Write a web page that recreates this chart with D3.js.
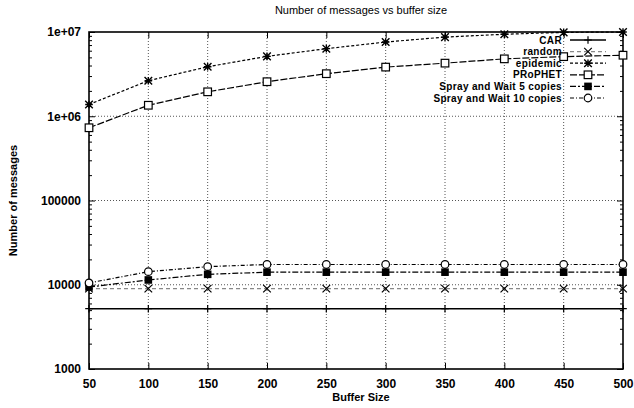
<!DOCTYPE html>
<html>
<head>
<meta charset="utf-8">
<script src="https://cdn.jsdelivr.net/npm/d3@7"></script>
<style>
  body { margin: 0; background: #fff; }
  text { font-family: "Liberation Sans", Arial, sans-serif; fill: #000; }
</style>
</head>
<body>
<div id="chart"></div>
<script>
(function() {
  var margin = { top: 32, left: 89, right: 11, bottom: 39 },
    width = 634 - margin.left - margin.right,
    height = 408 - margin.top - margin.bottom;

  // buffer sizes on the x-axis
  var buffer_sizes = [50, 100, 150, 200, 250, 300, 350, 400, 450, 500];

  // y tick labels (gnuplot style)
  var y_ticks = [1000, 10000, 100000, 1000000, 10000000];
  var y_tick_labels = ["1000", "10000", "100000", "1e+06", "1e+07"];

  var series_names = ["CAR", "random", "epidemic", "PRoPHET", "Spray and Wait 5 copies", "Spray and Wait 10 copies"];

  // values
  var car_values = [5200, 5200, 5200, 5200, 5200, 5200, 5200, 5200, 5200, 5200];
  var random_values = [9000, 9000, 9000, 9000, 9000, 9000, 9000, 9000, 9000, 9000];
  var epidemic_values = [1380000, 2640000, 3870000, 5140000, 6340000, 7600000, 8700000, 9400000, 9900000, 10000000];
  var prophet_values = [730000, 1350000, 1950000, 2570000, 3200000, 3830000, 4270000, 4800000, 5100000, 5300000];
  var spray5_values = [9400, 11400, 13300, 14100, 14100, 14100, 14100, 14100, 14100, 14100];
  var spray10_values = [10500, 14300, 16400, 17400, 17400, 17400, 17400, 17400, 17400, 17400];

  var all_values = [car_values, random_values, epidemic_values, prophet_values, spray5_values, spray10_values];

  // line style and marker per series
  var dash_styles = [null, "4,3", "3,2", "7,2", "6,2,2,2", "4,2,1,2"];
  var line_colours = ["#000", "#888", "#000", "#000", "#000", "#000"];
  var marker_types = ["plus", "cross", "star", "square", "filled", "circle"];

  var svg = d3.select("#chart")
    .append("svg")
    .attr("width", width + margin.left + margin.right)
    .attr("height", height + margin.top + margin.bottom)
    .append("g")
    .attr("transform", "translate(" + margin.left + "," + margin.top + ")");

  var xScale = d3.scaleLinear().domain([50, 500]).range([0, width]);
  var yScale = d3.scaleLog().domain([1000, 10000000]).range([height, 0]);

  // grid
  var grid = svg.append("g").attr("class", "grid");
  grid.selectAll("line.gx")
    .data(buffer_sizes.slice(1, -1))
    .enter().append("line")
    .attr("class", "gx")
    .attr("x1", function(d) { return xScale(d) })
    .attr("x2", function(d) { return xScale(d) })
    .attr("y1", 0).attr("y2", height);

  grid.selectAll("line.gy")
    .data(y_ticks.slice(1, -1))
    .enter().append("line")
    .attr("class", "gy")
    .attr("y1", function(d) { return yScale(d) })
    .attr("y2", function(d) { return yScale(d) })
    .attr("x1", 0).attr("x2", width);

  grid.selectAll("line")
    .attr("stroke", "#555").attr("stroke-width", 1)
    .attr("stroke-dasharray", "1,2");

  // axes with inward ticks, mirrored
  var xAxis = d3.axisBottom(xScale).tickValues(buffer_sizes).tickSize(-6).tickPadding(10);
  svg.append("g")
    .attr("class", "axis x-axis")
    .attr("transform", "translate(0," + height + ")")
    .call(xAxis)
    .call(function(g) { g.select(".domain").remove() })
    .selectAll("text")
    .style("font-size", "12px")
    .style("font-weight", "bold");

  svg.append("g")
    .call(d3.axisTop(xScale).tickValues(buffer_sizes).tickSize(-6).tickFormat(""))
    .call(function(g) { g.select(".domain").remove() });

  var minor_ticks = [];
  y_ticks.slice(0, -1).forEach(function(t) {
    for (var k = 2; k < 10; k++) minor_ticks.push(t * k);
  });

  var yAxis = d3.axisLeft(yScale).tickValues(y_ticks)
    .tickFormat(function(d, i) { return y_tick_labels[i] })
    .tickSize(-6).tickPadding(8);
  svg.append("g")
    .attr("class", "axis y-axis")
    .call(yAxis)
    .call(function(g) { g.select(".domain").remove() })
    .selectAll("text")
    .style("font-size", "12px")
    .style("font-weight", "bold");

  svg.append("g")
    .call(d3.axisLeft(yScale).tickValues(minor_ticks).tickSize(-3).tickFormat(""))
    .call(function(g) { g.select(".domain").remove() });
  svg.append("g")
    .attr("transform", "translate(" + width + ",0)")
    .call(d3.axisRight(yScale).tickValues(y_ticks).tickSize(-6).tickFormat(""))
    .call(function(g) { g.select(".domain").remove() });
  svg.append("g")
    .attr("transform", "translate(" + width + ",0)")
    .call(d3.axisRight(yScale).tickValues(minor_ticks).tickSize(-3).tickFormat(""))
    .call(function(g) { g.select(".domain").remove() });

  svg.selectAll(".tick line").attr("stroke", "#000");

  // border
  svg.append("rect")
    .attr("width", width).attr("height", height)
    .attr("fill", "none").attr("stroke", "#000").attr("stroke-width", 1.6);

  function drawMarker(g, type, x, y) {
    var s = 3.8;
    if (type === "plus") {
      g.append("path").attr("d", "M" + (x - s) + "," + y + "H" + (x + s) + "M" + x + "," + (y - s) + "V" + (y + s))
        .attr("stroke", "#000").attr("stroke-width", 1.2);
    } else if (type === "cross") {
      g.append("path").attr("d", "M" + (x - s) + "," + (y - s) + "L" + (x + s) + "," + (y + s) + "M" + (x - s) + "," + (y + s) + "L" + (x + s) + "," + (y - s))
        .attr("stroke", "#000").attr("stroke-width", 1.2);
    } else if (type === "star") {
      g.append("path").attr("d", "M" + (x - s) + "," + (y - s) + "L" + (x + s) + "," + (y + s) + "M" + (x - s) + "," + (y + s) + "L" + (x + s) + "," + (y - s) +
        "M" + (x - s) + "," + y + "H" + (x + s) + "M" + x + "," + (y - s) + "V" + (y + s))
        .attr("stroke", "#000").attr("stroke-width", 1.4);
    } else if (type === "square") {
      g.append("rect").attr("x", x - s).attr("y", y - s).attr("width", 2 * s).attr("height", 2 * s)
        .attr("fill", "#fff").attr("stroke", "#000").attr("stroke-width", 1.2);
    } else if (type === "filled") {
      g.append("rect").attr("x", x - s).attr("y", y - s).attr("width", 2 * s).attr("height", 2 * s)
        .attr("fill", "#000");
    } else if (type === "circle") {
      g.append("circle").attr("cx", x).attr("cy", y).attr("r", s)
        .attr("fill", "#fff").attr("stroke", "#000").attr("stroke-width", 1.2);
    }
  }

  var line = d3.line()
    .x(function(d, i) { return xScale(buffer_sizes[i]) })
    .y(function(d) { return yScale(d) });

  all_values.forEach(function(values, k) {
    var g = svg.append("g");
    g.append("path")
      .datum(values)
      .attr("d", line)
      .attr("fill", "none")
      .attr("stroke", line_colours[k])
      .attr("stroke-width", k === 0 ? 1.5 : 1.2)
      .attr("stroke-dasharray", dash_styles[k]);
    values.forEach(function(v, i) {
      drawMarker(g, marker_types[k], xScale(buffer_sizes[i]), yScale(v));
    });
  });

  // legend
  var legend = svg.append("g").attr("transform", "translate(" + (width - 61) + ",8)");
  series_names.forEach(function(name, k) {
    var row = legend.append("g").attr("transform", "translate(0," + (k * 11.6) + ")");
    row.append("text")
      .attr("x", 0).attr("dy", "0.35em")
      .attr("text-anchor", "end")
      .style("font-size", "10px")
      .style("font-weight", "bold")
      .style("letter-spacing", "0.35px")
      .text(name);
    row.append("line")
      .attr("x1", 8).attr("x2", 44)
      .attr("stroke", line_colours[k])
      .attr("stroke-width", k === 0 ? 1.5 : 1.2)
      .attr("stroke-dasharray", dash_styles[k]);
    drawMarker(row, marker_types[k], 26, 0);
  });

  // titles
  svg.append("text")
    .attr("x", width / 2 + 5).attr("y", -18)
    .attr("text-anchor", "middle")
    .style("font-size", "11px")
    .text("Number of messages vs buffer size");

  svg.append("text")
    .attr("x", width / 2 + 5).attr("y", height + 32)
    .attr("text-anchor", "middle")
    .style("font-size", "11px")
    .style("font-weight", "bold")
    .text("Buffer Size");

  svg.append("text")
    .attr("transform", "translate(-72," + (height / 2) + ") rotate(-90)")
    .attr("text-anchor", "middle")
    .style("font-size", "11px")
    .style("font-weight", "bold")
    .text("Number of messages");
})();
</script>
</body>
</html>
